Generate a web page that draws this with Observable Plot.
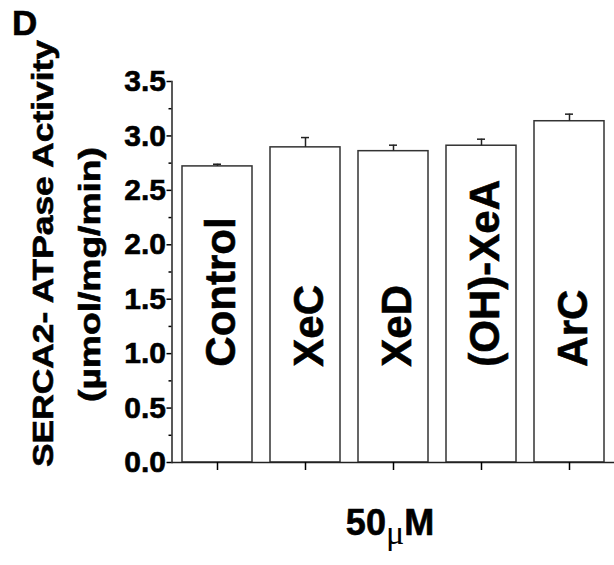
<!DOCTYPE html>
<html>
<head>
<meta charset="utf-8">
<script src="https://cdn.jsdelivr.net/npm/d3@7"></script>
<script src="https://cdn.jsdelivr.net/npm/@observablehq/plot@0.6"></script>
<style>
  html, body { margin: 0; padding: 0; background: #fff; }
  #chart svg { display: block; }
  #chart svg text { stroke: #000; stroke-width: 0.6px; }
</style>
</head>
<body>
<div id="chart"></div>
<script>
// ---- data ----
const categories = ["Control", "XeC", "XeD", "(OH)-XeA", "ArC"];
const values = [2.72, 2.895, 2.86, 2.91, 3.135];
const errors = [0.02, 0.09, 0.055, 0.06, 0.065];
const yMajorTicks = [0, 0.5, 1.0, 1.5, 2.0, 2.5, 3.0, 3.5];
const yMinorTicks = [0.25, 0.75, 1.25, 1.75, 2.25, 2.75, 3.25];
const panelLabel = "D";
const yTitleLine1 = "SERCA2- ATPase Activity";
const yTitleLine2 = "(µmol/mg/min)";
const xTitleParts = ["50", "μ", "M"];

const data = categories.map((name, i) => ({name, value: values[i], err: errors[i]}));

const font = "'Liberation Sans', Arial, Helvetica, sans-serif";

const svg = Plot.plot({
  width: 614,
  height: 565,
  marginLeft: 171.5,
  marginRight: 0,
  marginTop: 81,
  marginBottom: 103,
  style: {fontFamily: font, fontWeight: "bold", fontSize: "30px", color: "#000", background: "#fff"},
  x: {domain: categories, paddingInner: 0.2, paddingOuter: 0.1, label: null},
  y: {domain: [0, 3.5], label: null},
  marks: [
    Plot.barY(data, {x: "name", y: "value", fill: "white", stroke: "#333", strokeWidth: 1.5}),
    Plot.ruleX(data, {x: "name", y1: "value", y2: d => d.value + d.err, stroke: "#222", strokeWidth: 1.5}),
    Plot.tickY(data, {x: "name", y: d => d.value + d.err, insetLeft: 31, insetRight: 31, stroke: "#222", strokeWidth: 1.5}),
    Plot.text(data, {x: "name", y: 0.88, text: "name", rotate: -90, textAnchor: "start",
      fontSize: 42, fontWeight: "bold", fontFamily: font, dx: 4, fill: "#000"}),
    Plot.ruleY([0], {stroke: "#222", strokeWidth: 1.5}),
    Plot.axisY({ticks: yMajorTicks, tickSize: 5, tickPadding: 1, tickFormat: d3.format(".1f"), label: null,
      fontSize: 30, fontWeight: "bold", strokeWidth: 1.5}),
    Plot.axisY({ticks: yMinorTicks, tickSize: 3, tickFormat: () => "", label: null, strokeWidth: 1.5}),
    Plot.axisX({tickSize: 8, tickFormat: () => "", label: null, strokeWidth: 1.5}),
    Plot.frame({anchor: "left", stroke: "#222", strokeWidth: 1.5})
  ]
});

document.getElementById("chart").appendChild(svg);

const s = d3.select(svg);

// panel label
s.append("text")
  .attr("x", 12).attr("y", 35)
  .attr("text-anchor", "start")
  .attr("font-family", font).attr("font-weight", "bold").attr("font-size", 35)
  .attr("fill", "#000")
  .text(panelLabel);

// y-axis title, two rotated lines
s.append("text")
  .attr("transform", "translate(53,253.5) rotate(-90)")
  .attr("text-anchor", "middle")
  .attr("font-family", font).attr("font-weight", "bold").attr("font-size", 29)
  .attr("textLength", 427).attr("lengthAdjust", "spacingAndGlyphs")
  .attr("fill", "#000")
  .text(yTitleLine1);

s.append("text")
  .attr("transform", "translate(100,274.5) rotate(-90)")
  .attr("text-anchor", "middle")
  .attr("font-family", font).attr("font-weight", "bold").attr("font-size", 29)
  .attr("textLength", 255).attr("lengthAdjust", "spacingAndGlyphs")
  .attr("fill", "#000")
  .text(yTitleLine2);

// x-axis title "50μM"
const xt = s.append("text")
  .attr("x", 390).attr("y", 535)
  .attr("text-anchor", "middle")
  .attr("font-family", font).attr("font-weight", "bold").attr("font-size", 36)
  .attr("fill", "#000");
xt.append("tspan").text(xTitleParts[0]);
xt.append("tspan").attr("dy", 9).attr("font-family", "'Liberation Serif', serif")
  .attr("font-weight", "normal").attr("font-size", 34).attr("stroke", "none").text(xTitleParts[1]);
xt.append("tspan").attr("dy", -9).text(xTitleParts[2]);
</script>
</body>
</html>
